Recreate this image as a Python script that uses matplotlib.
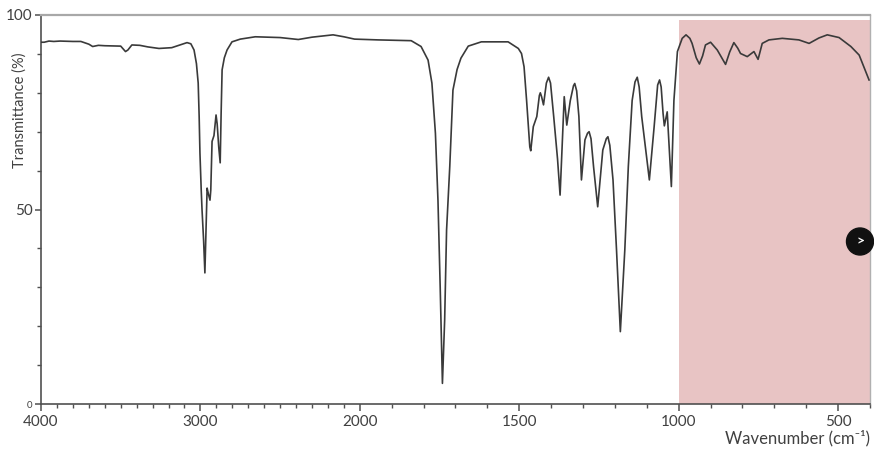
import numpy as np
import matplotlib
matplotlib.use("Agg")
import matplotlib.pyplot as plt
from matplotlib.patches import Ellipse

plt.rcParams['font.family'] = ['Lato', 'DejaVu Sans']

# Spectrum (wavenumber cm-1, transmittance %)
wavenumber = [4000, 3980, 3950, 3920, 3880, 3800, 3750, 3700, 3676, 3640, 3600, 3500,
              3470, 3455, 3430, 3380, 3330, 3260, 3180, 3120, 3084, 3060, 3040, 3025,
              3014, 3008, 3003, 2995, 2990, 2980, 2972, 2965, 2958, 2950, 2940, 2935,
              2927, 2915, 2902, 2895, 2885, 2876, 2870, 2864, 2850, 2833, 2802, 2750,
              2656, 2500, 2386, 2300, 2168, 2100, 2033, 1943, 1839, 1808, 1786, 1774,
              1763, 1755, 1748, 1741, 1734, 1728, 1718, 1708, 1695, 1683, 1660, 1619,
              1535, 1503, 1493, 1485, 1477, 1467, 1464, 1456, 1445, 1437, 1434, 1430,
              1424, 1415, 1408, 1402, 1392, 1380, 1372, 1364, 1359, 1351, 1340, 1330,
              1326, 1320, 1313, 1305, 1294, 1286, 1281, 1275, 1267, 1254, 1238, 1227,
              1222, 1216, 1206, 1195, 1183, 1169, 1158, 1146, 1137, 1130, 1124, 1116,
              1092, 1077, 1066, 1060, 1055, 1049, 1045, 1036, 1023, 1015, 1004, 989,
              977, 965, 958, 945, 935, 925, 916, 900, 879, 865, 853, 840,
              827, 815, 806, 785, 764, 751, 738, 717, 675, 623, 591, 560,
              534, 497, 460, 434, 403]
transmittance = [93.0, 93.0, 93.3, 93.2, 93.3, 93.2, 93.2, 92.5, 91.9, 92.2, 92.1, 92.0,
                 90.6, 91.0, 92.3, 92.2, 91.8, 91.4, 91.6, 92.4, 92.9, 92.6, 91.0, 87.5,
                 82.5, 74.0, 64.5, 55.0, 50.0, 42.0, 33.7, 45.0, 55.5, 54.0, 52.4, 55.0,
                 67.5, 69.0, 74.3, 72.0, 66.0, 62.0, 75.0, 85.9, 89.0, 91.0, 93.1, 93.8,
                 94.4, 94.2, 93.7, 94.3, 94.9, 94.4, 93.8, 93.6, 93.4, 91.9, 88.4, 82.5,
                 69.6, 52.4, 30.0, 5.3, 21.6, 44.7, 61.0, 80.7, 86.0, 88.9, 92.0, 93.1,
                 93.1, 91.4, 90.1, 86.7, 78.0, 66.1, 65.1, 71.3, 73.9, 79.3, 80.0, 79.0,
                 76.9, 82.5, 84.0, 82.5, 73.9, 63.0, 53.7, 69.6, 79.0, 71.7, 78.0, 81.8,
                 82.4, 80.5, 73.9, 57.6, 67.9, 69.6, 70.0, 68.2, 61.0, 50.7, 65.3, 68.2,
                 68.7, 66.5, 57.6, 39.6, 18.6, 39.6, 61.0, 78.0, 82.8, 84.0, 81.5, 73.9,
                 57.6, 71.3, 82.0, 83.3, 81.5, 74.7, 71.5, 75.1, 55.9, 78.0, 90.6, 94.0,
                 94.9, 94.0, 92.7, 89.0, 87.4, 89.5, 92.3, 93.0, 91.0, 89.0, 87.3, 90.5,
                 92.9, 91.5, 90.1, 89.3, 90.6, 88.6, 92.7, 93.6, 94.0, 93.6, 92.7, 94.1,
                 94.9, 94.2, 91.9, 89.7, 83.3]

major_ticks = [4000, 3000, 2000, 1500, 1000, 500]
major_labels = ["4000", "3000", "2000", "1500", "1000", "500"]
shade_range = (1000, 400)

text_color = "#404040"


def fwd(w):
    w = np.asarray(w, dtype=float)
    return np.where(w > 2000, 2000 + (w - 2000) / 2.0, w)


def inv(u):
    u = np.asarray(u, dtype=float)
    return np.where(u > 2000, 2000 + (u - 2000) * 2.0, u)


fig = plt.figure(figsize=(8.74, 4.5), dpi=100)
ax = fig.add_axes([41 / 874, 46 / 450, 829 / 874, 389 / 450])

ax.set_xscale('function', functions=(fwd, inv))
ax.set_xlim(4000, 400)
ax.set_ylim(0, 100)

ax.axvspan(shade_range[0], shade_range[1], ymin=0, ymax=0.987,
           color="#e8c4c4", lw=0, zorder=0)

ax.plot(wavenumber, transmittance, color="#3a3a3a", lw=1.2, zorder=3)

# spines
ax.spines["right"].set_color("#b0b0b0")
ax.spines["right"].set_linewidth(1.0)
ax.spines["top"].set_color("#a8a8a8")
ax.spines["top"].set_linewidth(1.6)
ax.spines["left"].set_color("#505050")
ax.spines["bottom"].set_color("#505050")
ax.spines["left"].set_linewidth(1.2)
ax.spines["bottom"].set_linewidth(1.2)

# x ticks
ax.set_xticks(major_ticks)
ax.set_xticklabels(major_labels)
ax.set_xticks(list(range(4000, 399, -100)), minor=True)
ax.tick_params(axis="x", which="major", length=5, width=1.1, color="#505050",
               labelsize=11, labelcolor=text_color, pad=3)
ax.tick_params(axis="x", which="minor", length=3, width=1.0, color="#505050")

# y ticks
ax.set_yticks([0, 50, 100])
ax.set_yticklabels(["0", "50", "100"])
ax.set_yticks(list(range(0, 101, 10)), minor=True)
ax.tick_params(axis="y", which="major", length=4, width=1.1, color="#505050",
               labelsize=11, labelcolor=text_color, pad=2)
ax.tick_params(axis="y", which="minor", length=3, width=1.0, color="#505050")
for lab in ax.get_yticklabels():
    if lab.get_text() == "0":
        lab.set_fontsize(7)

fig.text(20 / 874, (450 - 110) / 450, "Transmittance (%)", rotation=90,
         ha="center", va="center", fontsize=10.5, color=text_color)

fig.text(870 / 874, 12 / 450, "Wavenumber (cm\u207b\u00b9)", ha="right", va="center",
         fontsize=12, color=text_color)

# carousel button overlay
fig.add_artist(Ellipse((860 / 874, (450 - 241.5) / 450), 27 / 874, 27 / 450,
                       transform=fig.transFigure, color="#111111", zorder=10))
fig.text(860.5 / 874, (450 - 241.5) / 450, ">", ha="center", va="center",
         color="white", fontsize=10, fontweight="bold", zorder=11)

fig.savefig("out.png", dpi=100)
